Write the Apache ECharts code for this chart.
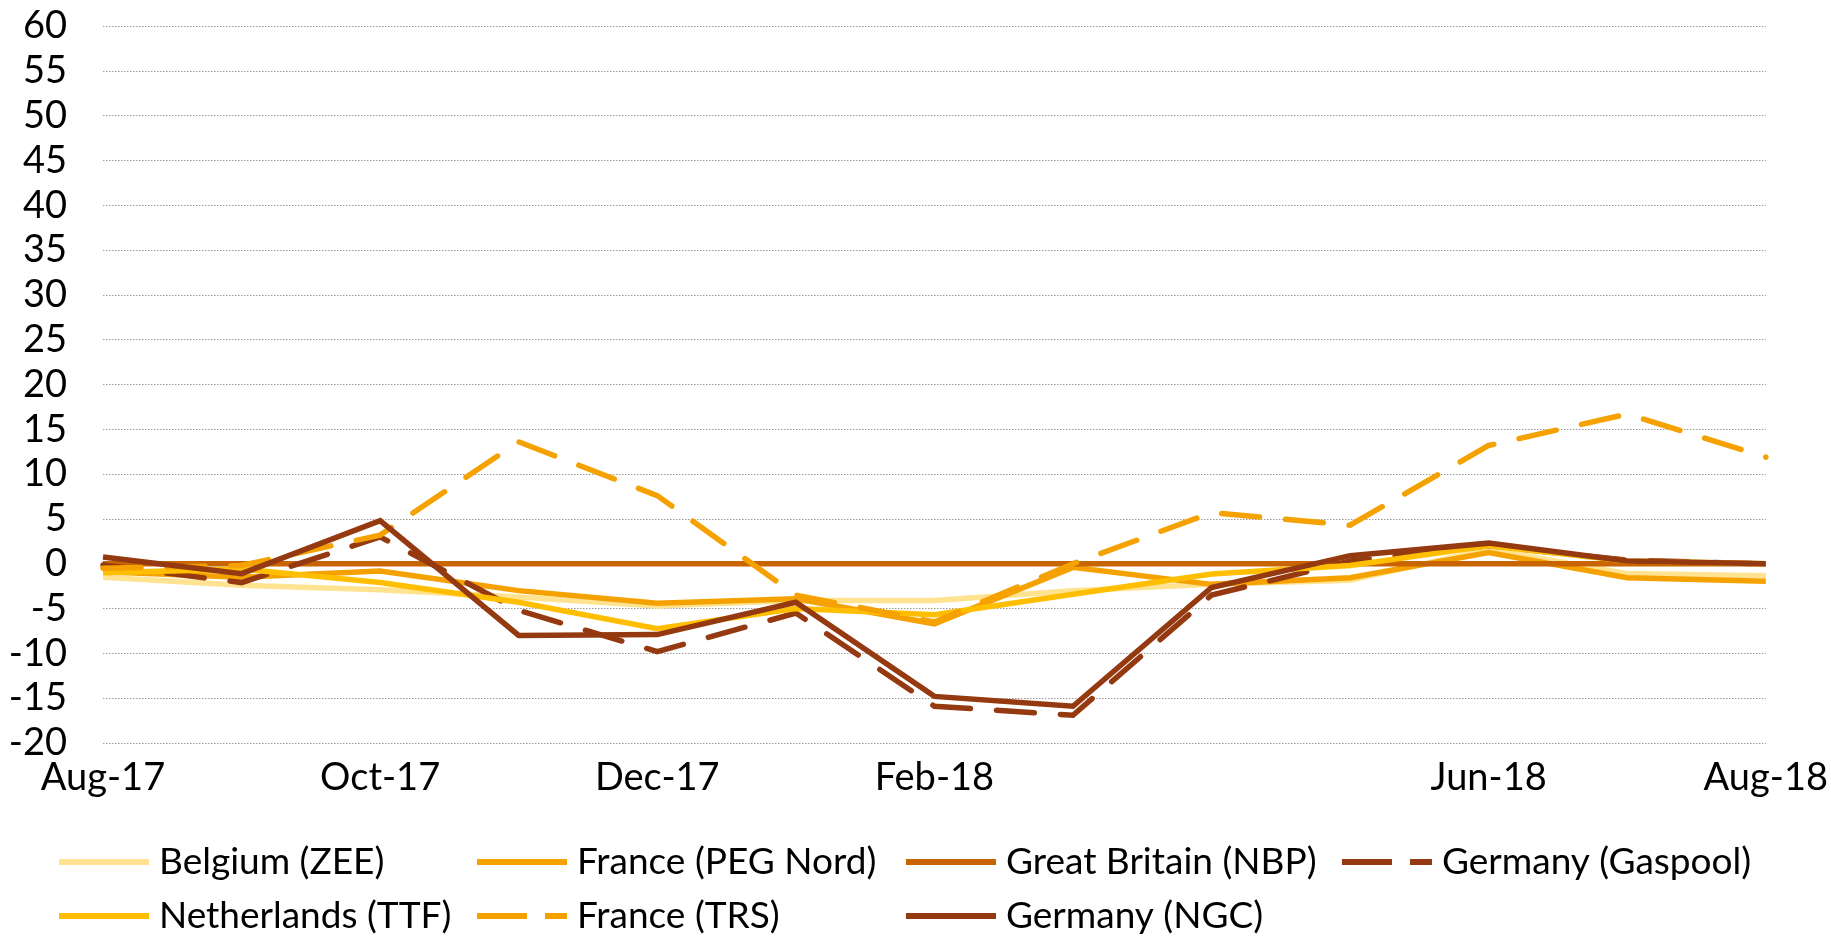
<!DOCTYPE html>
<html>
<head>
<meta charset="utf-8">
<script src="https://cdn.jsdelivr.net/npm/echarts@6/dist/echarts.min.js"></script>
<style>
html,body{margin:0;padding:0;background:#fff;}
#chart{width:1831px;height:936px;}
</style>
</head>
<body>
<div id="chart"></div>
<script>
var categories = ['Aug-17','Sep-17','Oct-17','Nov-17','Dec-17','Jan-18','Feb-18','Mar-18','Apr-18','May-18','Jun-18','Jul-18','Aug-18'];
var shownTickLabels = ['Aug-17','Oct-17','Dec-17','Feb-18','Jun-18','Aug-18'];

var belgiumZEE     = [-1.5, -2.4, -2.9, -3.7, -4.7, -4.1, -4.1, -3.0, -2.3, -1.85, 1.6, -1.1, -1.35];
var francePEGNord  = [-0.9, -1.5, -0.8, -3.0, -4.4, -3.9, -6.7, -0.4, -2.3, -1.55, 1.25, -1.55, -1.95];
var greatBritainNBP= [0, 0, 0, 0, 0, 0, 0, 0, 0, 0, 0, 0, 0];
var germanyGaspool = [-0.15, -2.1, 3.0, -5.2, -9.8, -5.5, -15.9, -16.9, -3.5, 0.3, 2.0, 0.4, 0.0];
var netherlandsTTF = [-1.0, -0.6, -2.1, -4.3, -7.25, -5.0, -5.7, -3.4, -1.15, -0.2, 2.0, 0.3, 0.0];
var franceTRS      = [-0.5, -0.2, 3.2, 13.6, 7.6, -3.5, -6.5, 0.0, 5.7, 4.3, 13.2, 16.7, 11.9];
var germanyNGC     = [0.75, -1.1, 4.8, -8.0, -7.9, -4.3, -14.8, -15.9, -2.65, 0.9, 2.3, 0.3, 0.0];

var FONT = 'Lato';
var LW = 5.5;
var DASH = [38, 26];
var SOLID_ICON = 'path://M0,0H90V6H0Z';
var DASH_ICON = 'path://M0,0H50V6H0Z M68,0H90V6H68Z';

function mk(name, data, color, dashed) {
  return {
    name: name,
    type: 'line',
    data: data,
    symbol: 'none',
    smooth: false,
    animation: false,
    lineStyle: {
      color: color,
      width: LW,
      type: dashed ? DASH : 'solid',
      cap: dashed ? 'round' : 'butt',
      join: 'miter'
    },
    itemStyle: { color: color }
  };
}

var dashedNames = ['France (TRS)', 'Germany (Gaspool)'];

function legendCol(left, names) {
  return {
    data: names.map(function (n) {
      return { name: n, icon: dashedNames.indexOf(n) >= 0 ? DASH_ICON : SOLID_ICON };
    }),
    orient: 'vertical',
    left: left,
    top: 843,
    itemWidth: 90,
    itemHeight: 6,
    itemGap: 16,
    selectedMode: false,
    itemStyle: { borderWidth: 0 },
    lineStyle: { width: 0, opacity: 0 },
    textStyle: { fontFamily: FONT, fontSize: 37, color: '#000', lineHeight: 38, padding: [0,0,0,5] },
    padding: 0
  };
}

var chart = echarts.init(document.getElementById('chart'), null, {renderer: 'canvas'});
chart.setOption({
  backgroundColor: '#fff',
  animation: false,
  grid: { left: 103, right: 65, top: 26, bottom: 193, containLabel: false },
  legend: [
    legendCol(59,   ['Belgium (ZEE)', 'Netherlands (TTF)']),
    legendCol(477,  ['France (PEG Nord)', 'France (TRS)']),
    legendCol(906,  ['Great Britain (NBP)', 'Germany (NGC)']),
    legendCol(1342, ['Germany (Gaspool)'])
  ],
  xAxis: {
    type: 'category',
    data: categories,
    boundaryGap: false,
    axisLine: { show: false },
    axisTick: { show: false },
    splitLine: { show: false },
    axisLabel: {
      interval: function (i, v) { return shownTickLabels.indexOf(v) >= 0; },
      fontFamily: FONT, fontSize: 38, color: '#000', margin: 16
    }
  },
  yAxis: {
    type: 'value',
    min: -20, max: 60, interval: 5,
    axisLine: { show: false },
    axisTick: { show: false },
    axisLabel: { fontFamily: FONT, fontSize: 38, color: '#000', margin: 36 },
    splitLine: { show: true, lineStyle: { color: '#9a9a9a', width: 1, type: [1.5, 1.5] } }
  },
  series: [
    mk('Belgium (ZEE)', belgiumZEE, '#FFE391', false),
    mk('France (PEG Nord)', francePEGNord, '#F5A100', false),
    mk('Great Britain (NBP)', greatBritainNBP, '#C96500', false),
    mk('Germany (Gaspool)', germanyGaspool, '#953A10', true),
    mk('Netherlands (TTF)', netherlandsTTF, '#FFBF00', false),
    mk('France (TRS)', franceTRS, '#F5A100', true),
    mk('Germany (NGC)', germanyNGC, '#953A10', false)
  ]
});
</script>
</body>
</html>
